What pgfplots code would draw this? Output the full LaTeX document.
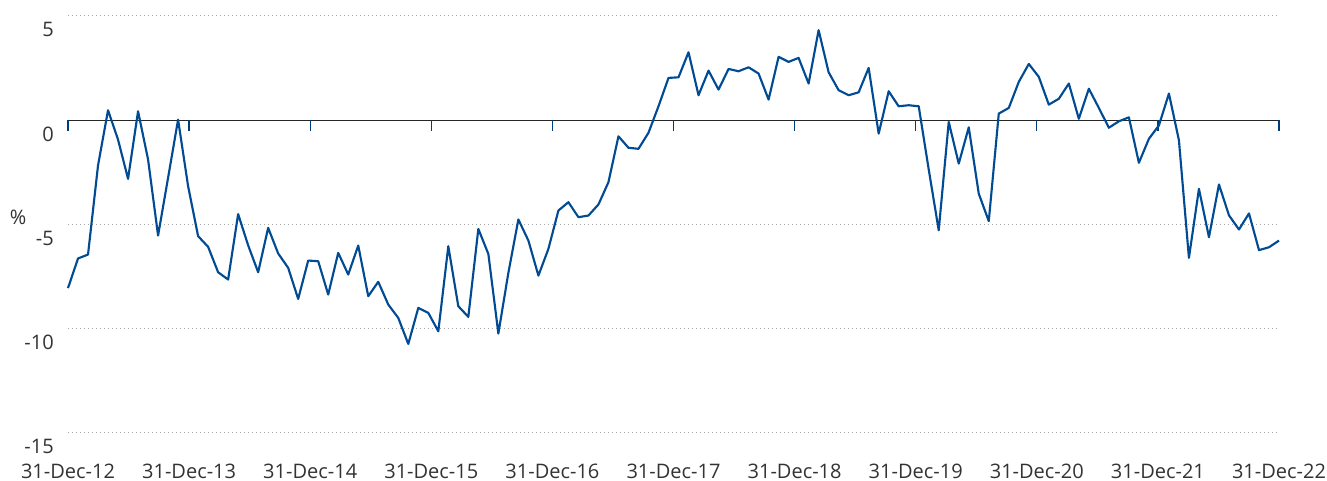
\documentclass[border=0pt]{standalone}
\usepackage{fontspec}
\setmainfont{Open Sans}
\usepackage{pgfplots}
\usepackage{pgfplotstable}
\pgfplotsset{compat=1.18}
\definecolor{ln}{HTML}{004B93}
\definecolor{txt}{HTML}{333333}
\pgfplotstableread{
x y
0 -8.05
1 -6.63
2 -6.44
3 -2.17
4 0.48
5 -0.93
6 -2.81
7 0.43
8 -1.88
9 -5.53
10 -2.76
11 0.03
12 -3.16
13 -5.56
14 -6.07
15 -7.29
16 -7.64
17 -4.50
18 -6.00
19 -7.29
20 -5.16
21 -6.39
22 -7.08
23 -8.57
24 -6.73
25 -6.76
26 -8.36
27 -6.36
28 -7.40
29 -6.01
30 -8.44
31 -7.75
32 -8.84
33 -9.48
34 -10.73
35 -9.00
36 -9.24
37 -10.12
38 -6.04
39 -8.92
40 -9.43
41 -5.21
42 -6.41
43 -10.23
44 -7.32
45 -4.76
46 -5.77
47 -7.45
48 -6.17
49 -4.33
50 -3.93
51 -4.65
52 -4.57
53 -4.04
54 -2.97
55 -0.77
56 -1.32
57 -1.37
58 -0.60
59 0.67
60 2.03
61 2.06
62 3.26
63 1.20
64 2.38
65 1.47
66 2.46
67 2.35
68 2.54
69 2.24
70 0.99
71 3.04
72 2.80
73 2.99
74 1.76
75 4.32
76 2.30
77 1.44
78 1.20
79 1.34
80 2.51
81 -0.64
82 1.39
83 0.67
84 0.72
85 0.67
86 -2.36
87 -5.28
88 -0.08
89 -2.08
90 -0.34
91 -3.52
92 -4.84
93 0.32
94 0.59
95 1.84
96 2.70
97 2.08
98 0.75
99 1.03
100 1.76
101 0.07
102 1.51
103 0.59
104 -0.36
105 -0.05
106 0.14
107 -2.04
108 -0.89
109 -0.25
110 1.28
111 -0.96
112 -6.60
113 -3.29
114 -5.61
115 -3.08
116 -4.56
117 -5.24
118 -4.47
119 -6.23
120 -6.09
121 -5.77
}\datatable
\begin{document}
\fontsize{15}{18}\selectfont
\begin{tikzpicture}
\useasboundingbox (-51pt,-36pt) rectangle (944.25pt,324.75pt);
\begin{axis}[
  at={(0pt,0pt)}, anchor=south west,
  scale only axis, width=908.25pt, height=312.75pt,
  xmin=0, xmax=121, ymin=-15, ymax=5,
  axis line style={draw=none},
  xtick={0,12.1,24.2,36.3,48.4,60.5,72.6,84.7,96.8,108.9,121},
  xticklabels={31-Dec-12,31-Dec-13,31-Dec-14,31-Dec-15,31-Dec-16,31-Dec-17,31-Dec-18,31-Dec-19,31-Dec-20,31-Dec-21,31-Dec-22},
  ytick={-15,-10,-5,0,5},
  yticklabels={-15,-10,-5,0,5},
  major tick length=0pt,
  tick style={draw=none},
  ymajorgrids,
  grid style={draw=black!35, line width=0.75pt, dash pattern=on 1.1pt off 1.9pt},
  tick label style={font=\fontsize{15}{18}\selectfont, text=txt},
  yticklabel style={anchor=north east, inner sep=0pt, xshift=-10.5pt, yshift=-4.5pt},
  xticklabel style={anchor=north, inner sep=0pt, yshift=-23pt},
  clip=false,
]
\draw[black!85, line width=1pt] (axis cs:0,0) -- (axis cs:121,0);
\pgfplotsinvokeforeach{0,12.1,24.2,36.3,48.4,60.5,72.6,84.7,96.8,108.9,121}{
  \draw[ln!80!black, line width=1pt] (axis cs:#1,0) -- ++(0pt,-8.25pt);
}
\addplot[ln, line width=1.6pt, line join=round, mark=none] table[x=x,y=y] {\datatable};
\end{axis}
\node[text=txt, inner sep=0pt] at (-37.5pt,162pt) {\%};
\end{tikzpicture}
\end{document}
